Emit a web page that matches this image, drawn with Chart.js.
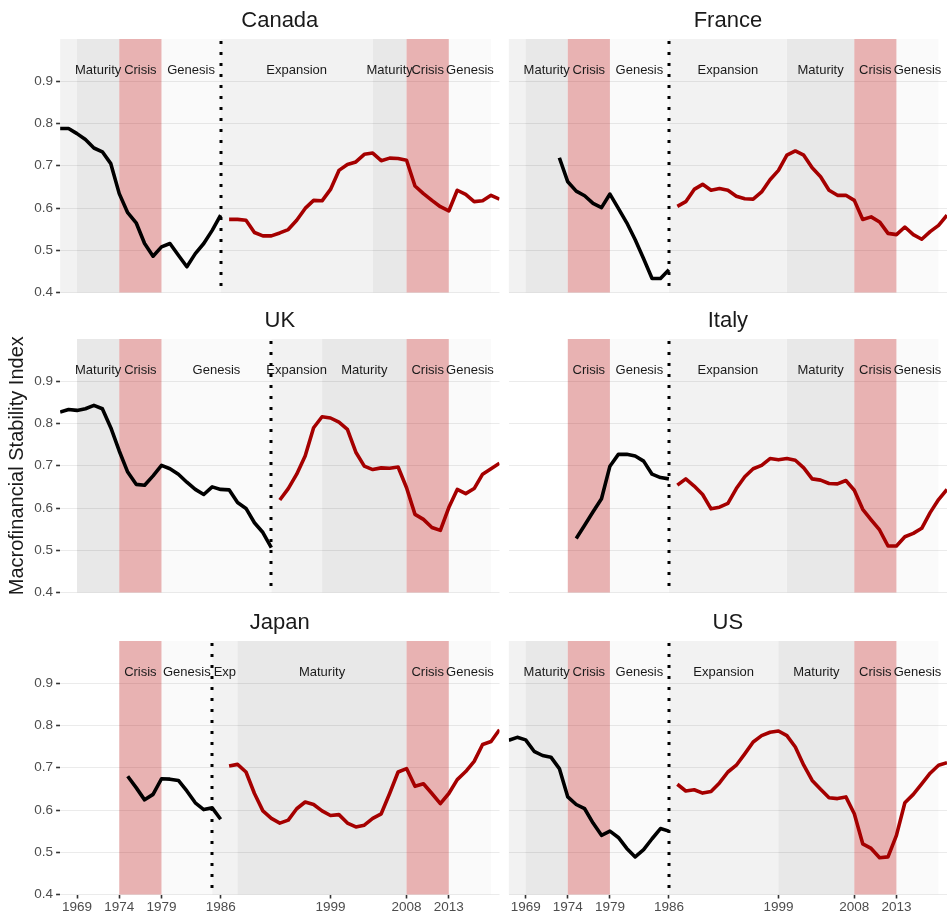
<!DOCTYPE html>
<html><head><meta charset="utf-8">
<script src="https://cdn.jsdelivr.net/npm/chart.js@4"></script>
<style>
html,body{margin:0;padding:0;background:#fff;width:947px;height:917px;overflow:hidden}
canvas{position:absolute;display:block}
</style></head><body>
<canvas id="canada"></canvas><canvas id="france"></canvas>
<canvas id="uk"></canvas><canvas id="italy"></canvas>
<canvas id="japan"></canvas><canvas id="us"></canvas>
<script>
// ---------- data ----------
const years = [1967,1968,1969,1970,1971,1972,1973,1974,1975,1976,1977,1978,1979,1980,1981,1982,1983,1984,1985,1986,
  1987,1988,1989,1990,1991,1992,1993,1994,1995,1996,1997,1998,1999,2000,2001,2002,2003,2004,2005,2006,2007,2008,
  2009,2010,2011,2012,2013,2014,2015,2016,2017,2018,2019];
const gap = n => Array(n).fill(null);

const xTickYears = [1969,1974,1979,1986,1999,2008,2013];
const yTickValues = [0.4,0.5,0.6,0.7,0.8,0.9];

const canadaPre = [0.788,0.788,0.776,0.762,0.742,0.733,0.705,0.634,0.589,0.565,0.516,0.486,0.508,0.516,0.488,0.461,0.492,0.516,0.547,0.583, ...gap(33)];
const canadaPost = [...gap(20), 0.573,0.573,0.571,0.542,0.534,0.534,0.541,0.549,0.571,0.599,0.618,0.617,0.644,
  0.689,0.703,0.709,0.727,0.730,0.712,0.718,0.717,0.713,0.652, 0.634,0.618,0.603,0.593,0.642,0.632,0.615,0.617,0.630,0.621];

const francePre = [...gap(6), 0.719,0.662,0.640,0.629,0.611,0.601,0.633,0.599,0.565,0.525,0.480,0.433,0.433,0.454, ...gap(33)];
const francePost = [...gap(20), 0.604,0.615,0.644,0.656,0.642,0.646,0.642,0.628,0.622,0.621,0.638,0.667,0.689,
  0.725,0.735,0.725,0.695,0.674,0.642,0.630,0.630,0.618,0.573, 0.579,0.567,0.540,0.537,0.555,0.537,0.526,0.544,0.559,0.583];

const ukPre = [0.827,0.833,0.831,0.835,0.843,0.835,0.790,0.735,0.685,0.656, 0.654,0.676,0.701,0.693,0.680,0.661,0.644,0.632,0.650,0.644,
  0.643,0.613,0.599,0.565,0.542,0.506, ...gap(27)];
const ukPost = [...gap(26), 0.619,0.646,0.680,0.723,0.790,0.816,0.813, 0.803,0.786,0.732,0.699,0.691,0.695,0.694,0.697,0.648,0.585,
  0.573,0.554,0.547,0.601,0.644,0.634,0.646,0.680,0.693,0.706];

const italyPre = [...gap(8), 0.528,0.559,0.591,0.622,0.699,0.727,0.727,0.723,0.711,0.680,0.672,0.669, ...gap(33)];
const italyPost = [...gap(20), 0.654,0.669,0.652,0.632,0.598,0.602,0.611,0.646,0.674,0.693,0.701,0.717,0.714,
  0.717,0.713,0.695,0.669,0.666,0.658,0.657,0.665,0.642,0.597, 0.572,0.548,0.510,0.510,0.532,0.540,0.552,0.589,0.620,0.644];

const japanPre = [...gap(8), 0.680,0.653,0.624,0.637,0.674,0.673,0.670,0.645,0.617,0.601,0.605,0.578, ...gap(33)];
const japanPost = [...gap(20), 0.704,0.708,0.690,0.639,0.598,0.580,0.569,0.576,0.603,0.619,0.613,0.598,0.587,
  0.589,0.569,0.560,0.564,0.580,0.591,0.639,0.690,0.698,0.656, 0.662,0.639,0.615,0.639,0.672,0.691,0.715,0.755,0.762,0.790];

const usPre = [0.765,0.772,0.766,0.739,0.729,0.725,0.698,0.631,0.613,0.603,0.569,0.540,0.550,0.535,0.509,0.489,0.506,0.532,0.556,0.550, ...gap(33)];
const usPost = [...gap(20), 0.661,0.645,0.648,0.640,0.644,0.664,0.690,0.706,0.733,0.761,0.776,0.784,0.787,
  0.776,0.749,0.706,0.670,0.649,0.629,0.627,0.631,0.591,0.520, 0.509,0.487,0.489,0.540,0.617,0.637,0.662,0.687,0.706,0.712];

// phases: [start, end, phase, label]
const canadaPhases = [[1967,1969,'Expansion',''],[1969,1974,'Maturity','Maturity'],[1974,1979,'Crisis','Crisis'],[1979,1986,'Genesis','Genesis'],
  [1986,2004,'Expansion','Expansion'],[2004,2008,'Maturity','Maturity'],[2008,2013,'Crisis','Crisis'],[2013,2018,'Genesis','Genesis']];
const francePhases = [[1967,1969,'Expansion',''],[1969,1974,'Maturity','Maturity'],[1974,1979,'Crisis','Crisis'],[1979,1986,'Genesis','Genesis'],
  [1986,2000,'Expansion','Expansion'],[2000,2008,'Maturity','Maturity'],[2008,2013,'Crisis','Crisis'],[2013,2018,'Genesis','Genesis']];
const ukPhases = [[1969,1974,'Maturity','Maturity'],[1974,1979,'Crisis','Crisis'],[1979,1992,'Genesis','Genesis'],
  [1992,1998,'Expansion','Expansion'],[1998,2008,'Maturity','Maturity'],[2008,2013,'Crisis','Crisis'],[2013,2018,'Genesis','Genesis']];
const italyPhases = [[1974,1979,'Crisis','Crisis'],[1979,1986,'Genesis','Genesis'],
  [1986,2000,'Expansion','Expansion'],[2000,2008,'Maturity','Maturity'],[2008,2013,'Crisis','Crisis'],[2013,2018,'Genesis','Genesis']];
const japanPhases = [[1974,1979,'Crisis','Crisis'],[1979,1985,'Genesis','Genesis'],[1985,1988,'Expansion','Exp'],
  [1988,2008,'Maturity','Maturity'],[2008,2013,'Crisis','Crisis'],[2013,2018,'Genesis','Genesis']];
const usPhases = [[1967,1969,'Expansion',''],[1969,1974,'Maturity','Maturity'],[1974,1979,'Crisis','Crisis'],[1979,1986,'Genesis','Genesis'],
  [1986,1999,'Expansion','Expansion'],[1999,2008,'Maturity','Maturity'],[2008,2013,'Crisis','Crisis'],[2013,2018,'Genesis','Genesis']];

const dividers = {canada:1986, france:1986, uk:1992, italy:1986, japan:1985, us:1986};

// ---------- drawing ----------
const FONT = '"Liberation Sans", Arial, Helvetica, sans-serif';
Chart.defaults.font.family = FONT;
const phaseFill = {Expansion:'rgba(0,0,0,0.05)', Maturity:'rgba(0,0,0,0.092)', Crisis:'rgba(178,0,0,0.3)', Genesis:'rgba(0,0,0,0.02)'};
const LABEL_LEVEL = 0.925;

const panels = [
  {id:'canada', title:'Canada', pre:canadaPre, post:canadaPost, phases:canadaPhases, col:0, row:0},
  {id:'france', title:'France', pre:francePre, post:francePost, phases:francePhases, col:1, row:0},
  {id:'uk', title:'UK', pre:ukPre, post:ukPost, phases:ukPhases, col:0, row:1},
  {id:'italy', title:'Italy', pre:italyPre, post:italyPost, phases:italyPhases, col:1, row:1},
  {id:'japan', title:'Japan', pre:japanPre, post:japanPost, phases:japanPhases, col:0, row:2},
  {id:'us', title:'US', pre:usPre, post:usPost, phases:usPhases, col:1, row:2}
];

function series(vals){ return years.map((x,i)=>({x, y:vals[i]})).filter(d=>d.y!==null); }

panels.forEach(p=>{
  const left = p.col===0, bottom = p.row===2;
  const cv = document.getElementById(p.id);
  cv.width = left ? 504 : 443;
  cv.height = bottom ? 315 : 297;
  cv.style.left = (left ? 0 : 504) + 'px';
  cv.style.top = [0,300,602][p.row] + 'px';

  const phasePlugin = {
    id:'phases_'+p.id,
    beforeDatasetsDraw(chart){
      const {ctx, chartArea:a, scales:{x, y}} = chart;
      ctx.save();
      p.phases.forEach(([s,e,ph])=>{
        const x1 = x.getPixelForValue(s), x2 = x.getPixelForValue(e);
        ctx.fillStyle = phaseFill[ph];
        ctx.fillRect(x1, a.top, x2-x1, a.bottom-a.top);
      });
      ctx.font = '13px ' + FONT;
      ctx.fillStyle = '#1a1a1a';
      ctx.textAlign = 'center';
      ctx.textBaseline = 'middle';
      p.phases.forEach(([s,e,ph,lab])=>{
        if (lab) ctx.fillText(lab, x.getPixelForValue((s+e)/2), y.getPixelForValue(LABEL_LEVEL));
      });
      const dx = Math.round(x.getPixelForValue(dividers[p.id]));
      ctx.strokeStyle = '#000';
      ctx.lineWidth = 3;
      ctx.setLineDash([3,8]);
      ctx.beginPath();
      ctx.moveTo(dx, a.top + 2);
      ctx.lineTo(dx, a.bottom);
      ctx.stroke();
      ctx.restore();
    }
  };

  const lineStyle = {pointRadius:0, borderWidth:3.6, tension:0, borderJoinStyle:'round', borderCapStyle:'butt', fill:false};

  new Chart(cv, {
    type:'line',
    data:{datasets:[
      Object.assign({label:p.title+' pre', data:series(p.pre), borderColor:'#000000'}, lineStyle),
      Object.assign({label:p.title+' post', data:series(p.post), borderColor:'#a50000'}, lineStyle)
    ]},
    options:{
      responsive:false, animation:false, devicePixelRatio:1,
      layout:{padding:{left: left?0:4.8, right: left?4.5:0, top:0, bottom: bottom?0:4.5}},
      plugins:{
        legend:{display:false}, tooltip:{enabled:false},
        title:{display:true, fullSize:false, text:p.title, color:'#1a1a1a',
          font:{family:FONT, size:22, weight:'normal'}, padding:{top:7.5, bottom:5.1}}
      },
      scales:{
        x:{type:'linear', min:1967, max:2019, display:bottom,
          afterBuildTicks:s=>{ s.ticks = xTickYears.map(v=>({value:v})); },
          ticks:{callback:v=>String(v), color:'#4d4d4d', font:{size:13.5}, padding:1, maxRotation:0, autoSkip:false},
          grid:{drawOnChartArea:false, drawTicks:true, tickLength:4, tickColor:'#333333', tickWidth:1.6},
          border:{display:false},
          afterFit:s=>{ s.height = bottom ? 22.5 : 0; s.paddingLeft = 0; s.paddingRight = 0; }
        },
        y:{type:'linear', min:0.4, max:1.0,
          afterBuildTicks:s=>{ s.ticks = yTickValues.map(v=>({value:v})); },
          ticks:{display:left, callback:v=>v.toFixed(1), color:'#4d4d4d', font:{size:13.5}, padding:3},
          grid:{color:'#ebebeb', lineWidth:1, drawTicks:left, tickLength:4, tickColor:'#333333', tickWidth:1.6},
          border:{display:false},
          title:{display:p.id==='uk', text:'Macrofinancial Stability Index', color:'#1a1a1a',
            font:{family:FONT, size:20}, padding:{top:5, bottom:0}},
          afterFit:s=>{ s.width = left ? 60.1 : 0; s.paddingTop = 0; s.paddingBottom = 0; }
        }
      }
    },
    plugins:[phasePlugin]
  });
});
</script>
</body></html>
